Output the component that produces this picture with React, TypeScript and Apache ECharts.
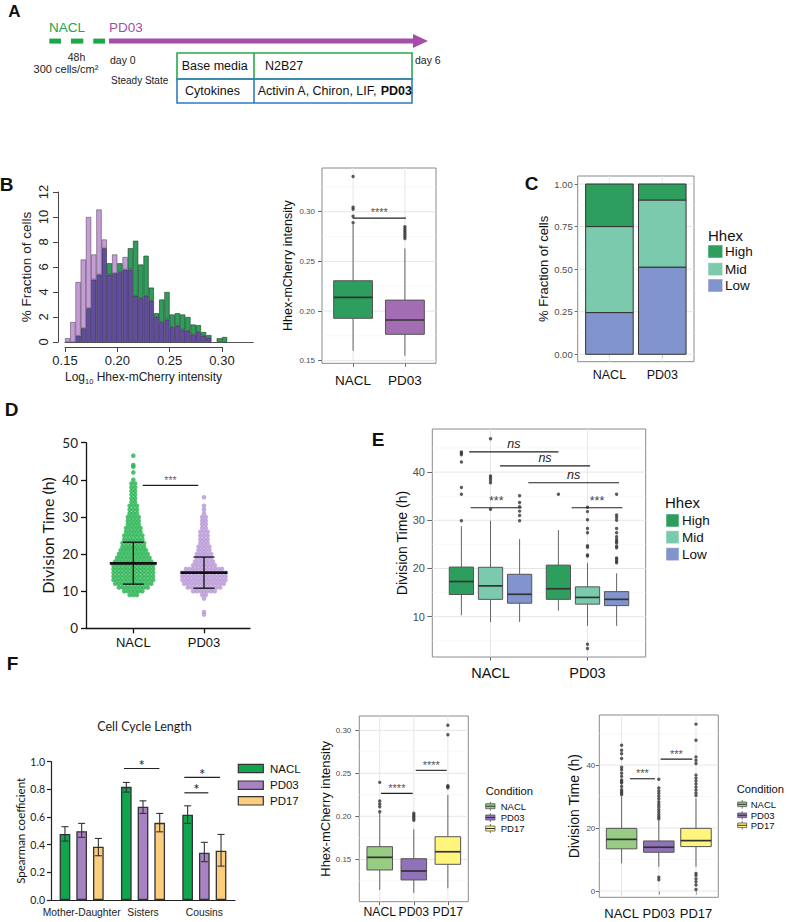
import React, { useEffect, useRef } from 'react';
import * as echarts from 'echarts';

const SANS = '"Liberation Sans", Arial, sans-serif';
const LATO = 'Lato, "Open Sans", sans-serif';

// ---------------- Panel B: histogram ----------------
const histBins = ['0.150','0.155','0.160','0.165','0.170','0.175','0.180','0.185','0.190','0.195','0.200','0.205','0.210','0.215','0.220','0.225','0.230','0.235','0.240','0.245','0.250','0.255','0.260','0.265','0.270','0.275','0.280','0.285','0.290','0.295','0.300','0.305','0.310','0.315','0.320','0.325'];
const histNacl = [0,0,0.5,1.1,2.7,5.0,5.4,7.5,6.3,5.5,6.3,5.8,7.5,8.1,6.2,6.9,4.35,2.3,3.4,4.0,2.2,2.3,2.2,2.0,1.4,1.35,0.8,0.55,0,0.3,0.4,0,0,0,0,0];
const histPd03 = [0.3,1.6,4.8,6.6,10.0,7.0,10.6,8.2,5.4,7.0,5.6,6.8,5.8,3.7,3.5,3.7,3.3,2.0,1.6,1.8,1.2,1.3,1.0,0.9,0.6,0.8,0.5,0.35,0,0,0,0,0,0,0,0];
const histXTicks = [0.15, 0.2, 0.25, 0.3];

// ---------------- Panel B: boxplot ----------------
const bCats = ['NACL', 'PD03'];
const bStats = [[0.160, 0.1927, 0.2138, 0.2305, 0.2875], [0.155, 0.1766, 0.191, 0.211, 0.263]];
const bOutNacl = [0.3355, 0.3045, 0.3025, 0.2955, 0.289];
const bOutPd03 = [0.285, 0.283, 0.281, 0.279, 0.277, 0.275, 0.273];
const bYTicks = [0.15, 0.2, 0.25, 0.3];

// ---------------- Panel C ----------------
const cCats = ['NACL', 'PD03'];
const hhexLevels = ['High', 'Mid', 'Low'];
const cLow = [0.245, 0.512];
const cMid = [0.505, 0.394];
const cHigh = [0.25, 0.094];
const cYTicks = [0, 0.25, 0.5, 0.75, 1];

// ---------------- Panel D ----------------
const dCats = ['NACL', 'PD03'];
// [division time (h), number of cells in that row]
const dNaclRows = [[9,3],[10,6],[11,9],[12,11],[13,12],[14,12],[15,12],[16,12],[17,12],[18,11],[19,10],[20,9],[21,8],[22,7],[23,7],[24,6],[25,6],[26,5],[27,5],[28,4],[29,4],[30,4],[31,3],[32,3],[33,3],[34,2],[35,2],[36,2],[37,2],[38,2],[39,2],[40,1],[42,1],[43.5,1],[44,1],[46.5,1]];
const dPd03Rows = [[3.7,1],[4.4,1],[8,1],[9,2],[10,7],[11,10],[12,12],[13,13],[14,13],[15,13],[16,11],[17,7],[18,6],[19,5],[20,5],[21,4],[22,4],[23,3],[24,3],[25,3],[26,3],[27,2],[28,2],[29,2],[30,2],[31,1],[32,1],[33,1],[35.3,1]];
const dMean = [17.5, 15.0];
const dSdLow = [11.9, 10.8];
const dSdHigh = [23.2, 19.2];

// ---------------- Panel E ----------------
const eCats = ['NACL', 'PD03'];
const eNaclStats = [[10.3,14.6,17.3,20.3,28.8],[8.9,13.6,16.4,20.25,29.9],[8.9,12.8,14.65,18.8,26.1]];
const ePd03Stats = [[11.25,13.6,15.8,20.7,28.0],[8.1,12.6,14.0,16.2,21.1],[8.1,12.3,13.6,15.2,19.0]];
const eNaclOut = [[44.2,43.9,43.6,42.1,36.8,35.4,29.9],[46.9,39.2,38.8,38.3,37.8,32.3],[35.1,33.7,32.8,31.9,31.0,29.9]];
const ePd03Out = [[35.4],[32.7,31.8,30.1,28.3,27.4,24.7,24.4,22.8,22.6,4.3,3.4],[35.4,31.1,30.6,30.0,28.3,27.4,26.6,26.0,25.6,25.3,24.6,24.3,22.2,21.9,21.5,21.2]];
const eYTicks = [10, 20, 30, 40];

// ---------------- Panel F: bars ----------------
const fCats = ['Mother-Daughter', 'Sisters', 'Cousins'];
const conditions = ['NACL', 'PD03', 'PD17'];
const fNacl = [0.477, 0.818, 0.616];
const fPd03 = [0.498, 0.674, 0.342];
const fPd17 = [0.385, 0.558, 0.356];
const fNaclErr = [[0.426, 0.53], [0.78, 0.85], [0.554, 0.681]];
const fPd03Err = [[0.453, 0.554], [0.626, 0.717], [0.277, 0.417]];
const fPd17Err = [[0.32, 0.445], [0.493, 0.626], [0.245, 0.474]];

// ---------------- Panel F: Hhex boxplot ----------------
const fmStats = [[0.1143,0.1376,0.1523,0.1647,0.204],[0.111,0.126,0.1364,0.1507,0.185],[0.1163,0.1442,0.1588,0.1763,0.2248]];
const fmOut = [[0.2395,0.2178,0.2143,0.2112,0.2054],[0.2035,0.2015,0.1995,0.1975,0.1955],[0.306,0.2949,0.2356,0.2345,0.2333]];
const fmYTicks = [0.15, 0.2, 0.25, 0.3];

// ---------------- Panel F: division time boxplot ----------------
const frStats = [[8.8,13.4,16.4,19.9,29.9],[7.7,12.3,13.9,15.9,22.5],[7.7,14.1,16.0,19.9,29.4]];
const frOut = [
  [46.3,44.7,43.6,42.1,39.3,38.5,37.4,36.4,35.3,34.8,34.3,33.2,32.2,31.6,31.1,30.6],
  [35.5,32.7,31.8,31.0,30.1,29.2,28.3,27.5,26.7,25.8,25.0,24.2,23.5,22.9,4.35,3.6],
  [53.0,47.9,42.6,41.5,40.5,36.8,35.8,34.9,34.0,33.0,32.1,31.1,30.3,5.6,4.9,3.8,2.9,1.9,0.5],
];
const frYTicks = [0, 20, 40];

// ---------------- colours ----------------
const hhexColors = ['#2e9e5e', '#7ccaad', '#8294cd'];
const condColors = ['#98cc82', '#8f72b8', '#fff47c'];
const barColors = ['#10a650', '#a883c4', '#fccd7c'];

// ---------------- layout ----------------
const G: any = {
  bh: { left: 65, top: 192, width: 188.3, height: 150 },
  bx: { left: 65, top: 346, width: 157, height: 1 },
  bb: { left: 322, top: 168, width: 114, height: 195.3 },
  c: { left: 577.7, top: 176, width: 116.3, height: 185.7 },
  d: { left: 86, top: 442.7, width: 164, height: 185.6 },
  e: { left: 432.3, top: 429, width: 213.4, height: 228 },
  fb: { left: 51, top: 761.7, width: 184, height: 138.3 },
  fm: { left: 359.3, top: 716, width: 109, height: 185.7 },
  fr: { left: 599.3, top: 715, width: 119, height: 182.3 },
};
const D_MIN = 0.331, D_MAX = 2.651;

function ggX(i: number, cats: string[], fs: number, margin: number) {
  const vals = cats.map((_, k) => k + 1);
  return {
    type: 'value', gridIndex: i, min: 0.4, max: cats.length + 0.6,
    axisLine: { show: false }, splitLine: { show: false },
    axisTick: { show: true, customValues: vals, length: 3.5, lineStyle: { color: '#555', width: 0.9 } },
    axisLabel: { show: true, customValues: vals, showMinLabel: true, showMaxLabel: true, hideOverlap: false, formatter: (v: number) => cats[Math.round(v) - 1] || '', fontSize: fs, color: '#111', margin, fontFamily: SANS },
  };
}
function ggY(i: number, min: number, max: number, ticks: number[], dec: number, fs: number, margin: number, tl: number, name: string, nfs: number, gap: number) {
  return {
    type: 'value', gridIndex: i, min, max,
    axisLine: { show: false }, splitLine: { show: false },
    axisTick: { show: true, customValues: ticks, length: tl, lineStyle: { color: '#555', width: 0.9 } },
    axisLabel: { show: true, customValues: ticks, showMinLabel: true, showMaxLabel: true, hideOverlap: false, formatter: (v: number) => v.toFixed(dec), fontSize: fs, color: '#4d4d4d', margin, fontFamily: SANS },
    name, nameLocation: 'middle', nameGap: gap, nameTextStyle: { fontSize: nfs, color: '#111', fontFamily: SANS },
  };
}
function gridSeries(i: number, hMajor: number[], hMinor: number[], vMajor: number[]) {
  const data = [...hMajor.map((v) => [v, 0]), ...hMinor.map((v) => [v, 1]), ...vMajor.map((v) => [v, 2])];
  return {
    type: 'custom', xAxisIndex: i, yAxisIndex: i, silent: true, z: 1, data,
    renderItem: (params: any, api: any) => {
      const v = api.value(0); const t = api.value(1);
      const cs = params.coordSys;
      const p = api.coord([v, v]);
      if (t === 2) return { type: 'line', shape: { x1: p[0], y1: cs.y, x2: p[0], y2: cs.y + cs.height }, style: { stroke: '#e6e6e6', lineWidth: 1 } };
      return { type: 'line', shape: { x1: cs.x, y1: p[1], x2: cs.x + cs.width, y2: p[1] }, style: { stroke: t === 0 ? '#e6e6e6' : '#f3f3f3', lineWidth: t === 0 ? 1 : 0.6 } };
    },
  };
}
function boxSeries(i: number, items: number[][], widthU: number, colors: string[]) {
  return {
    type: 'custom', xAxisIndex: i, yAxisIndex: i, z: 3, silent: true, data: items,
    renderItem: (params: any, api: any) => {
      const x = api.value(0);
      const pLo = api.coord([x, api.value(1)]);
      const pQ1 = api.coord([x, api.value(2)]);
      const pMed = api.coord([x, api.value(3)]);
      const pQ3 = api.coord([x, api.value(4)]);
      const pHi = api.coord([x, api.value(5)]);
      const w = api.size([widthU, 0])[0];
      const cx = pMed[0];
      const ln = { stroke: '#555', lineWidth: 0.9 };
      return {
        type: 'group', children: [
          { type: 'line', shape: { x1: cx, y1: pHi[1], x2: cx, y2: pQ3[1] }, style: ln },
          { type: 'line', shape: { x1: cx, y1: pQ1[1], x2: cx, y2: pLo[1] }, style: ln },
          { type: 'rect', shape: { x: cx - w / 2, y: pQ3[1], width: w, height: pQ1[1] - pQ3[1] }, style: { fill: colors[api.value(6)], stroke: '#555', lineWidth: 1 } },
          { type: 'line', shape: { x1: cx - w / 2, y1: pMed[1], x2: cx + w / 2, y2: pMed[1] }, style: { stroke: '#333', lineWidth: 1.7 } },
        ],
      };
    },
  };
}
function outlierSeries(i: number, pts: number[][]) {
  return { type: 'scatter', xAxisIndex: i, yAxisIndex: i, z: 4, silent: true, symbolSize: 3.4, itemStyle: { color: '#333' }, data: pts };
}
function sigSeries(i: number, items: number[][], labels: string[], font: any, gap: number, lw = 1.1) {
  return {
    type: 'custom', xAxisIndex: i, yAxisIndex: i, z: 6, silent: true, data: items,
    renderItem: (params: any, api: any) => {
      const a = api.coord([api.value(0), api.value(2)]);
      const b = api.coord([api.value(1), api.value(2)]);
      return {
        type: 'group', children: [
          { type: 'line', shape: { x1: a[0], y1: a[1], x2: b[0], y2: b[1] }, style: { stroke: '#222', lineWidth: lw } },
          { type: 'text', x: (a[0] + b[0]) / 2, y: a[1] - gap, style: { text: labels[params.dataIndex], ...font, align: 'center', verticalAlign: 'middle' } },
        ],
      };
    },
  };
}
function swarmPoints(rows: number[][], cat: number, pxPerUnit: number, spacing: number) {
  const pts: number[][] = [];
  for (const [v, n] of rows) for (let k = 0; k < n; k++) pts.push([cat + ((k - (n - 1) / 2) * spacing) / pxPerUnit, v]);
  return pts;
}
function statsItems(stats: number[][], xs: number[], colorIdx: number[]) {
  return stats.map((s, k) => [xs[k], s[0], s[1], s[2], s[3], s[4], colorIdx[k]]);
}
function outPts(out: number[][], xs: number[]) {
  const pts: number[][] = [];
  out.forEach((arr, k) => arr.forEach((v) => pts.push([xs[k], v])));
  return pts;
}

function txt(x: number, y: number, text: string, fs: number, opts: any = {}) {
  return {
    type: 'text', x, y, silent: true,
    style: { text, fontSize: fs, fontFamily: opts.family || SANS, fontWeight: opts.weight || 'normal', fontStyle: opts.style || 'normal', fill: opts.fill || '#111', align: opts.align || 'left', verticalAlign: 'middle', rich: opts.rich },
    rotation: opts.rotation || 0,
  };
}
function boxKey(x: number, top: number, w: number, h: number, fill: string) {
  const cx = x + w / 2;
  return [
    { type: 'line', shape: { x1: cx, y1: top, x2: cx, y2: top + h }, style: { stroke: '#555', lineWidth: 0.8 } },
    { type: 'rect', shape: { x, y: top + 2, width: w, height: h - 4 }, style: { fill, stroke: '#555', lineWidth: 0.8 } },
    { type: 'line', shape: { x1: x, y1: top + h / 2, x2: x + w, y2: top + h / 2 }, style: { stroke: '#333', lineWidth: 1 } },
  ];
}

function buildOption() {
  // histogram layers
  const histOverlap = histNacl.map((g, k) => { const m = Math.min(g, histPd03[k]); return m > 0 ? m : null; });
  const histGreenTop = histNacl.map((g, k) => (g - histPd03[k] > 0 ? +(g - histPd03[k]).toFixed(3) : null));
  const histLilacTop = histPd03.map((p, k) => (p - histNacl[k] > 0 ? +(p - histNacl[k]).toFixed(3) : null));

  const bXs = [1, 2];
  const eXsN = [0.7, 1.0, 1.3];
  const eXsP = [1.7, 2.0, 2.3];
  const f3 = [1, 2, 3];

  // C stacked items [cat, y0, y1, colourIdx]
  const cItems: number[][] = [];
  cCats.forEach((_, k) => {
    const l = cLow[k], m = cMid[k], h = cHigh[k];
    cItems.push([k + 1, 0, l, 2]);
    cItems.push([k + 1, l, l + m, 1]);
    cItems.push([k + 1, l + m, l + m + h, 0]);
  });

  const dPx = G.d.width / (D_MAX - D_MIN);

  const bar = (name: string, data: number[], color: string) => ({
    type: 'bar', name, xAxisIndex: 6, yAxisIndex: 6, data, barWidth: 10.7, barGap: '56%', z: 3,
    itemStyle: { color, borderColor: '#333', borderWidth: 1.3 },
  });
  const fErrItems: number[][] = [];
  [fNaclErr, fPd03Err, fPd17Err].forEach((errs, g) => errs.forEach((e, c) => fErrItems.push([c, e[0], e[1], g])));
  const fSigItems = [[1, 0.951, -19, 16.3], [2, 0.886, -20, 15.7], [2, 0.775, -20, 4]];

  const grids = ['bh', 'bx', 'bb', 'c', 'd', 'e', 'fb', 'fm', 'fr'].map((k) => ({
    ...G[k], containLabel: false, outerBoundsMode: 'none',
    show: ['bb', 'c', 'e', 'fm', 'fr'].includes(k), borderColor: '#8a8a8a', borderWidth: 1, backgroundColor: '#fff',
  }));

  const xAxis: any[] = [
    { type: 'category', gridIndex: 0, data: histBins, axisLine: { show: true, lineStyle: { color: '#555', width: 1 } }, axisTick: { show: false }, axisLabel: { show: false }, splitLine: { show: false } },
    {
      type: 'value', gridIndex: 1, min: 0.15, max: 0.30,
      axisLine: { show: true, lineStyle: { color: '#444', width: 1 } }, splitLine: { show: false },
      axisTick: { show: true, customValues: histXTicks, length: 5, lineStyle: { color: '#444' } },
      axisLabel: { customValues: histXTicks, showMinLabel: true, showMaxLabel: true, formatter: (v: number) => v.toFixed(2), fontSize: 13, color: '#222', margin: 7, fontFamily: SANS },
      name: '{t|Log}{s|10}{t| Hhex-mCherry intensity}', nameLocation: 'middle', nameGap: 24,
      nameTextStyle: { fontSize: 12, color: '#222', fontFamily: SANS, rich: { t: { fontSize: 12, lineHeight: 14, verticalAlign: 'top', fontFamily: SANS, color: '#222' }, s: { fontSize: 7.5, lineHeight: 6, verticalAlign: 'bottom', fontFamily: SANS, color: '#222' } } },
    },
    ggX(2, bCats, 13.5, 10),
    ggX(3, cCats, 12.5, 6.5),
    {
      type: 'value', gridIndex: 4, min: D_MIN, max: D_MAX,
      axisLine: { show: true, lineStyle: { color: '#111', width: 1.3 } }, splitLine: { show: false },
      axisTick: { show: true, customValues: [1, 2], length: 5, lineStyle: { color: '#111', width: 1.3 } },
      axisLabel: { customValues: [1, 2], showMinLabel: true, showMaxLabel: true, formatter: (v: number) => dCats[Math.round(v) - 1] || '', fontSize: 13, color: '#111', margin: 8, fontFamily: SANS },
    },
    ggX(5, eCats, 14.5, 8),
    {
      type: 'category', gridIndex: 6, data: fCats,
      axisLine: { show: true, lineStyle: { color: '#222', width: 1.2 } }, axisTick: { show: false }, splitLine: { show: false },
      axisLabel: { interval: 0, fontSize: 10.3, color: '#222', margin: 7, fontFamily: SANS },
    },
    ggX(7, conditions, 12.2, 4.5),
    ggX(8, conditions, 13, 10),
  ];

  const yAxis: any[] = [
    {
      type: 'value', gridIndex: 0, min: 0, max: 12, interval: 2, offset: 7,
      axisLine: { show: true, lineStyle: { color: '#444', width: 1 } }, splitLine: { show: false },
      axisTick: { show: true, length: 5, lineStyle: { color: '#444' } },
      axisLabel: { rotate: 90, fontSize: 13, color: '#222', margin: 8, fontFamily: SANS },
      name: '% Fraction of cells', nameLocation: 'middle', nameGap: 25, nameTextStyle: { fontSize: 13.5, color: '#222', fontFamily: SANS },
    },
    { type: 'value', gridIndex: 1, show: false, min: 0, max: 1 },
    ggY(2, 0.1474, 0.344, bYTicks, 2, 8, 7, 4, 'Hhex-mCherry intensity', 12.5, 27.5),
    ggY(3, -0.0435, 1.047, cYTicks, 2, 9.5, 5, 3, '% Fraction of cells', 13, 26),
    {
      type: 'value', gridIndex: 4, min: 0, max: 50, interval: 10,
      axisLine: { show: true, lineStyle: { color: '#111', width: 1.3 } }, splitLine: { show: false },
      axisTick: { show: true, length: 5, lineStyle: { color: '#111', width: 1.3 } },
      axisLabel: { fontSize: 13.5, color: '#222', margin: 8, fontFamily: LATO },
      name: 'Division Time (h)', nameLocation: 'middle', nameGap: 31, nameTextStyle: { fontSize: 16, color: '#111', fontFamily: LATO },
    },
    ggY(5, 1.64, 48.94, eYTicks, 0, 11, 7.3, 5, 'Division Time (h)', 14, 23),
    {
      type: 'value', gridIndex: 6, min: 0, max: 1, interval: 0.2,
      axisLine: { show: true, lineStyle: { color: '#222', width: 1.2 } }, splitLine: { show: false },
      axisTick: { show: true, length: 4, lineStyle: { color: '#222', width: 1.2 } },
      axisLabel: { formatter: (v: number) => v.toFixed(1), fontSize: 10.5, color: '#222', margin: 6, fontFamily: LATO },
      name: 'Spearman coefficient', nameLocation: 'middle', nameGap: 23, nameTextStyle: { fontSize: 11.5, color: '#111', fontFamily: LATO },
    },
    ggY(7, 0.1007, 0.3167, fmYTicks, 2, 8, 8, 4, 'Hhex-mCherry intensity', 13, 24),
    ggY(8, -2.0, 55.9, frYTicks, 0, 8, 4, 3.5, 'Division Time (h)', 14, 18.5),
  ];

  const ggSig = { fill: '#555', fontSize: 11, fontFamily: SANS };

  const series: any[] = [
    // B histogram
    { type: 'bar', xAxisIndex: 0, yAxisIndex: 0, stack: 'h', data: histOverlap, barCategoryGap: '0%', z: 2, itemStyle: { color: '#614d9e', borderColor: '#2b2340', borderWidth: 0.6 } },
    { type: 'bar', xAxisIndex: 0, yAxisIndex: 0, stack: 'h', data: histGreenTop, barCategoryGap: '0%', z: 2, itemStyle: { color: '#2f9d5a', borderColor: '#1d3a28', borderWidth: 0.6 } },
    { type: 'bar', xAxisIndex: 0, yAxisIndex: 0, stack: 'h', data: histLilacTop, barCategoryGap: '0%', z: 2, itemStyle: { color: '#c59dd5', borderColor: '#5a4a66', borderWidth: 0.6 } },
    // B box
    gridSeries(2, [0.15, 0.2, 0.25, 0.3], [0.175, 0.225, 0.275, 0.325], [1, 2]),
    boxSeries(2, statsItems(bStats, bXs, [0, 1]), 0.75, ['#2e9e5e', '#a36db3']),
    outlierSeries(2, outPts([bOutNacl, bOutPd03], bXs)),
    sigSeries(2, [[0.993, 2.02, 0.2935]], ['****'], ggSig, 6),
    // C
    gridSeries(3, [0, 0.25, 0.5, 0.75, 1], [0.125, 0.375, 0.625, 0.875], [1, 2]),
    {
      type: 'custom', xAxisIndex: 3, yAxisIndex: 3, z: 3, silent: true, data: cItems,
      renderItem: (params: any, api: any) => {
        const a = api.coord([api.value(0), api.value(1)]);
        const b = api.coord([api.value(0), api.value(2)]);
        const w = api.size([0.9, 0])[0];
        return { type: 'rect', shape: { x: a[0] - w / 2, y: b[1], width: w, height: a[1] - b[1] }, style: { fill: hhexColors[api.value(3)], stroke: '#333', lineWidth: 1 } };
      },
    },
    // D
    { type: 'scatter', xAxisIndex: 4, yAxisIndex: 4, z: 2, silent: true, symbolSize: 4.6, itemStyle: { color: '#22b14c' }, data: swarmPoints(dNaclRows, 1, dPx, 3.6) },
    { type: 'scatter', xAxisIndex: 4, yAxisIndex: 4, z: 2, silent: true, symbolSize: 4.6, itemStyle: { color: '#b795d6' }, data: swarmPoints(dPd03Rows, 2, dPx, 3.6) },
    {
      type: 'custom', xAxisIndex: 4, yAxisIndex: 4, z: 4, silent: true,
      data: dMean.map((m, k) => [k + 1, m, dSdLow[k], dSdHigh[k]]),
      renderItem: (params: any, api: any) => {
        const c = api.value(0);
        const m = api.coord([c, api.value(1)]), lo = api.coord([c, api.value(2)]), hi = api.coord([c, api.value(3)]);
        const x = m[0];
        const st = { stroke: '#111', lineWidth: 1.3 };
        return {
          type: 'group', children: [
            { type: 'line', shape: { x1: x, y1: hi[1], x2: x, y2: lo[1] }, style: st },
            { type: 'line', shape: { x1: x - 10.5, y1: hi[1], x2: x + 10.5, y2: hi[1] }, style: st },
            { type: 'line', shape: { x1: x - 10.5, y1: lo[1], x2: x + 10.5, y2: lo[1] }, style: st },
            { type: 'line', shape: { x1: x - 23.5, y1: m[1], x2: x + 23.5, y2: m[1] }, style: { stroke: '#111', lineWidth: 2.6 } },
          ],
        };
      },
    },
    sigSeries(4, [[1.133, 1.919, 38.5]], ['***'], { fill: '#666', fontSize: 10.5, fontFamily: SANS }, 5, 1.2),
    // E
    gridSeries(5, [10, 20, 30, 40], [5, 15, 25, 35, 45], [1, 2]),
    boxSeries(5, [...statsItems(eNaclStats, eXsN, [0, 1, 2]), ...statsItems(ePd03Stats, eXsP, [0, 1, 2])], 0.25, hhexColors),
    outlierSeries(5, [...outPts(eNaclOut, eXsN), ...outPts(ePd03Out, eXsP)]),
    sigSeries(5, [[0.78, 1.70, 44.2], [1.098, 2.026, 41.3], [1.39, 2.325, 37.8]], ['ns', 'ns', 'ns'], { fill: '#222', fontSize: 12.5, fontFamily: SANS, fontStyle: 'italic' }, 8),
    sigSeries(5, [[0.796, 1.322, 32.6], [1.837, 2.359, 32.6]], ['***', '***'], { fill: '#444', fontSize: 12.5, fontFamily: SANS }, 7),
    // F bars
    bar('NACL', fNacl, barColors[0]),
    bar('PD03', fPd03, barColors[1]),
    bar('PD17', fPd17, barColors[2]),
    {
      type: 'custom', xAxisIndex: 6, yAxisIndex: 6, z: 5, silent: true, data: fErrItems,
      renderItem: (params: any, api: any) => {
        const off = (api.value(3) - 1) * 16.7;
        const lo = api.coord([api.value(0), api.value(1)]);
        const hi = api.coord([api.value(0), api.value(2)]);
        const x = lo[0] + off;
        const st = { stroke: '#333', lineWidth: 1.1 };
        return {
          type: 'group', children: [
            { type: 'line', shape: { x1: x, y1: hi[1], x2: x, y2: lo[1] }, style: st },
            { type: 'line', shape: { x1: x - 3.5, y1: hi[1], x2: x + 3.5, y2: hi[1] }, style: st },
            { type: 'line', shape: { x1: x - 3.5, y1: lo[1], x2: x + 3.5, y2: lo[1] }, style: st },
          ],
        };
      },
    },
    {
      type: 'custom', xAxisIndex: 6, yAxisIndex: 6, z: 6, silent: true, data: fSigItems,
      renderItem: (params: any, api: any) => {
        const p = api.coord([api.value(0), api.value(1)]);
        const x1 = p[0] + api.value(2), x2 = p[0] + api.value(3);
        return {
          type: 'group', children: [
            { type: 'line', shape: { x1, y1: p[1], x2, y2: p[1] }, style: { stroke: '#222', lineWidth: 1.2 } },
            { type: 'text', x: (x1 + x2) / 2, y: p[1] - 3.5, style: { text: '*', fill: '#222', fontSize: 15, fontFamily: LATO, align: 'center', verticalAlign: 'middle' } },
          ],
        };
      },
    },
    // F middle box
    gridSeries(7, [0.15, 0.2, 0.25, 0.3], [0.125, 0.175, 0.225, 0.275], f3),
    boxSeries(7, statsItems(fmStats, f3, [0, 1, 2]), 0.75, condColors),
    outlierSeries(7, outPts(fmOut, f3)),
    sigSeries(7, [[1.037, 1.968, 0.2267], [2.056, 2.966, 0.2535]], ['****', '****'], ggSig, 5),
    // F right box
    gridSeries(8, [0, 20, 40], [10, 30, 50], f3),
    boxSeries(8, statsItems(frStats, f3, [0, 1, 2]), 0.82, condColors),
    outlierSeries(8, outPts(frOut, f3)),
    sigSeries(8, [[1.225, 1.897, 35.65], [2.05, 2.9, 41.9]], ['***', '***'], ggSig, 5.5),
  ];

  // ---------------- graphics ----------------
  const g: any[] = [];
  const letter = (x: number, y: number, t: string, fs = 19) => g.push(txt(x, y, t, fs, { weight: 'bold', align: 'center', fill: '#111' }));
  letter(14.5, 11, 'A', 17);
  letter(6.5, 184.5, 'B');
  letter(531.5, 183.5, 'C');
  letter(11.5, 409, 'D');
  letter(378, 439, 'E');
  letter(12.5, 663.5, 'F');

  // Panel A timeline
  const GREEN = '#1aa64a', PURPLE = '#a34ea8';
  g.push(txt(49, 27, 'NACL', 13.5, { fill: GREEN }));
  g.push(txt(109, 27, 'PD03', 13.5, { fill: PURPLE }));
  [[49.3, 11.7], [71, 12.3], [93.3, 11.7]].forEach(([x, w]) => g.push({ type: 'rect', shape: { x, y: 38.6, width: w, height: 5 }, style: { fill: GREEN } }));
  g.push({ type: 'line', shape: { x1: 109, y1: 41, x2: 418, y2: 41 }, style: { stroke: PURPLE, lineWidth: 5 } });
  g.push({ type: 'polygon', shape: { points: [[413, 34], [428, 41], [413, 48]] }, style: { fill: PURPLE } });
  g.push(txt(76.5, 57, '48h', 10.5, { align: 'center', fill: '#222' }));
  g.push(txt(66, 69, '300 cells/cm²', 11, { align: 'center', fill: '#222' }));
  g.push(txt(110, 60, 'day 0', 10.5, { fill: '#222' }));
  g.push(txt(111, 80, 'Steady State', 10, { fill: '#222' }));
  g.push(txt(415, 60, 'day 6', 10.5, { fill: '#222' }));
  g.push({ type: 'rect', shape: { x: 177, y: 53, width: 235, height: 26 }, style: { fill: 'none', stroke: '#2aa84a', lineWidth: 1.6 } });
  g.push({ type: 'line', shape: { x1: 254, y1: 53, x2: 254, y2: 79 }, style: { stroke: '#2aa84a', lineWidth: 1.6 } });
  g.push({ type: 'rect', shape: { x: 177, y: 79, width: 235, height: 24 }, style: { fill: 'none', stroke: '#2f7cc0', lineWidth: 1.6 } });
  g.push({ type: 'line', shape: { x1: 254, y1: 79, x2: 254, y2: 103 }, style: { stroke: '#2f7cc0', lineWidth: 1.6 } });
  g.push(txt(181.7, 66, 'Base media', 12.5, { fill: '#111' }));
  g.push(txt(265, 66, 'N2B27', 12.5, { fill: '#111' }));
  g.push(txt(185, 91, 'Cytokines', 12.5, { fill: '#111' }));
  g.push(txt(257.7, 91, 'Activin A, Chiron, LIF, {b|PD03}', 12.5, { fill: '#111', rich: { b: { fontWeight: 'bold', fontSize: 12.5, fontFamily: SANS, fill: '#111' } } }));

  // Legends Hhex (C and E)
  const hhexLegend = (tx: number, ty: number, kx: number, kw: number, kh: number, tops: number[], lx: number) => {
    g.push(txt(tx, ty, 'Hhex', 15));
    hhexLevels.forEach((lv, k) => {
      g.push({ type: 'rect', shape: { x: kx, y: tops[k], width: kw, height: kh }, style: { fill: hhexColors[k], stroke: '#fff', lineWidth: 0.5 } });
      g.push(txt(lx, tops[k] + kh / 2, lv, 13.5));
    });
  };
  hhexLegend(708, 235, 708, 14.7, 13, [245, 262.7, 279], 725);
  hhexLegend(665, 502.7, 666, 13, 13, [514, 530.7, 547.7], 682);

  // Legend F bars
  [764.3, 781, 796.7].forEach((top, k) => {
    g.push({ type: 'rect', shape: { x: 238.3, y: top, width: 25, height: 8.3 }, style: { fill: barColors[k], stroke: '#333', lineWidth: 1.2 } });
    g.push(txt(270, top + 4.2, conditions[k], 11.5, { fill: '#111' }));
  });
  g.push(txt(144.5, 726, 'Cell Cycle Length', 12.5, { family: LATO, align: 'center', fill: '#222' }));

  // Condition legends
  const condLegend = (tx: number, ty: number, kx: number, kw: number, kh: number, tops: number[], lx: number) => {
    g.push(txt(tx, ty, 'Condition', 11.2));
    conditions.forEach((c, k) => {
      boxKey(kx, tops[k], kw, kh, condColors[k]).forEach((el) => g.push(el));
      g.push(txt(lx, tops[k] + kh / 2, c, 9.5));
    });
  };
  condLegend(485.7, 791, 485.7, 9.3, 9, [801.7, 813, 824], 500.7);
  condLegend(736.7, 789, 737.7, 9, 8.6, [800, 811, 821], 750.7);

  return {
    animation: false,
    backgroundColor: '#fff',
    textStyle: { fontFamily: SANS },
    grid: grids,
    xAxis,
    yAxis,
    series,
    graphic: { elements: g },
  };
}

export default function App() {
  const ref = useRef<HTMLDivElement>(null);
  useEffect(() => {
    if (!ref.current) return;
    const chart = echarts.init(ref.current, null, { renderer: 'svg' });
    chart.setOption(buildOption() as any);
    return () => chart.dispose();
  }, []);
  return <div ref={ref} style={{ position: 'absolute', left: 0, top: 0, width: 788, height: 922, background: '#fff' }} />;
}
